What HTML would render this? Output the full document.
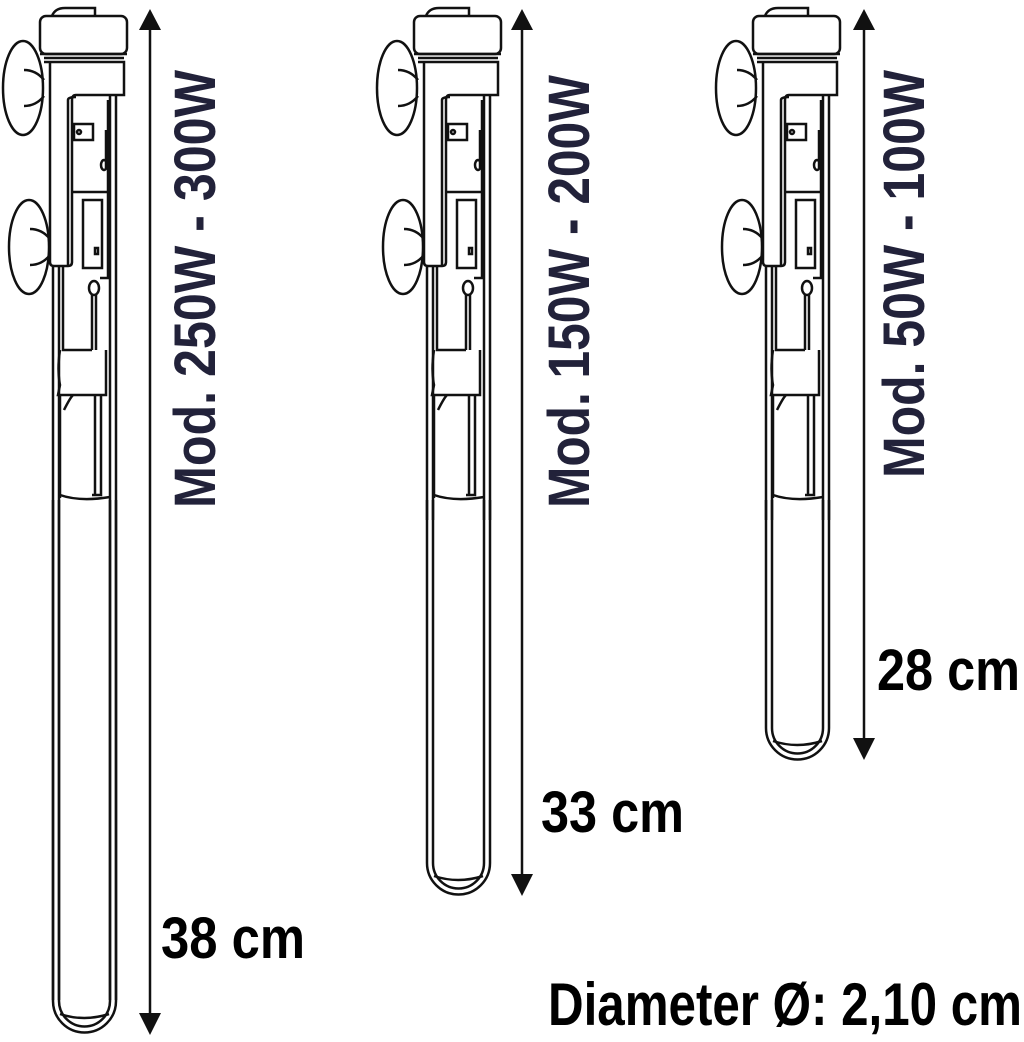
<!DOCTYPE html>
<html><head><meta charset="utf-8"><style>
html,body{margin:0;padding:0;background:#fff;}
svg{display:block;}
text{font-family:"Liberation Sans",sans-serif;font-weight:bold;}
</style></head><body>
<svg width="1024" height="1042" viewBox="0 0 1024 1042" xmlns="http://www.w3.org/2000/svg">
<defs>
<g id="top" fill="none" stroke="#111" stroke-width="2.5">
  <ellipse cx="23" cy="88" rx="20" ry="47" fill="#fff"/>
  <path d="M24 70 q12 0 20 10 M24 106 q12 0 20 -10"/>
  <ellipse cx="29" cy="247" rx="20" ry="47" fill="#fff"/>
  <path d="M30 229 q12 0 20 10 M30 265 q12 0 20 -10"/>
  <path d="M53 95 V1000 M59 95 V1000 M110 95 V1000 M116 95 V1000"/>
  <path d="M44 62 H124 V95 H76 Q72 95 72 100 V262 Q72 266 68 266 H54 Q50 266 50 262 V62" fill="#fff"/>
  <path d="M68 266 V100 Q68 97 76 97"/>
  <rect x="40" y="16" width="87" height="38" rx="6" fill="#fff"/>
  <path d="M52 16 Q55 8 65 8 H95 V16"/>
  <path d="M40 54 H127 M44 58 H124"/>
  <rect x="74" y="124" width="19" height="16"/><circle cx="79" cy="132" r="2"/>
  <path d="M72 192 H108 M106 130 V168"/>
  <ellipse cx="104" cy="165" rx="3" ry="5"/>
  <rect x="83" y="200" width="19" height="68"/><rect x="95" y="248" width="3" height="6"/>
  <path d="M108 100 V278 H100"/>
  <ellipse cx="94" cy="288" rx="5" ry="7"/>
  <path d="M92 295 V350 M96 295 V350"/>
  <path d="M63 266 V350 H92 M60 350 Q57 370 60 385 L58 395 H106 V350"/>
  <path d="M60 395 V498 M95 395 V495 M101 395 V495 H92 M64 410 Q70 398 73 395"/>
  <path d="M60 495 Q80 502 110 497"/>
</g>
</defs>

<use href="#top"/>
<g fill="none" stroke="#111" stroke-width="2.5">
  <path d="M53 500 V1001 A31.5 31.5 0 0 0 116 1001 V500"/>
  <path d="M59 500 V1001 A25.5 25.5 0 0 0 110 1001 V500"/>
  <path d="M60 1014 Q84 1022 109 1014"/>
</g>
<g transform="translate(374 0)">
  <use href="#top"/>
  <rect x="50" y="520" width="70" height="500" fill="#fff"/>
  <g fill="none" stroke="#111" stroke-width="2.5">
    <path d="M53 500 V863 A31.5 31.5 0 0 0 116 863 V500"/>
    <path d="M59 500 V863 A25.5 25.5 0 0 0 110 863 V500"/>
    <path d="M60 876 Q84 884 109 876"/>
  </g>
</g>
<g transform="translate(713 0)">
  <use href="#top"/>
  <rect x="50" y="520" width="70" height="500" fill="#fff"/>
  <g fill="none" stroke="#111" stroke-width="2.5">
    <path d="M53 500 V728 A31.5 31.5 0 0 0 116 728 V500"/>
    <path d="M59 500 V728 A25.5 25.5 0 0 0 110 728 V500"/>
    <path d="M60 741 Q84 749 109 741"/>
  </g>
</g>

<g stroke="#111" stroke-width="2.5" fill="#111">
  <line x1="150" y1="25" x2="150" y2="1018"/>
  <polygon points="139,30 161,30 150,9" stroke="none"/>
  <polygon points="139,1013 161,1013 150,1035" stroke="none"/>
  <line x1="522" y1="25" x2="522" y2="878"/>
  <polygon points="511,30 533,30 522,9" stroke="none"/>
  <polygon points="511,874 533,874 522,896" stroke="none"/>
  <line x1="864" y1="25" x2="864" y2="742"/>
  <polygon points="853,30 875,30 864,9" stroke="none"/>
  <polygon points="853,738 875,738 864,760" stroke="none"/>
</g>

<g fill="#22223a" font-size="58">
  <text transform="translate(215 508) rotate(-90)" textLength="438" lengthAdjust="spacingAndGlyphs">Mod. 250W - 300W</text>
  <text transform="translate(589 508) rotate(-90)" textLength="433" lengthAdjust="spacingAndGlyphs">Mod. 150W - 200W</text>
  <text transform="translate(924 478) rotate(-90)" textLength="408" lengthAdjust="spacingAndGlyphs">Mod. 50W - 100W</text>
</g>
<g fill="#000" font-size="58">
  <text x="161" y="958" textLength="144" lengthAdjust="spacingAndGlyphs">38 cm</text>
  <text x="541" y="832" textLength="143" lengthAdjust="spacingAndGlyphs">33 cm</text>
  <text x="877" y="690" textLength="143" lengthAdjust="spacingAndGlyphs">28 cm</text>
  <text x="548" y="1025" font-size="60" textLength="474" lengthAdjust="spacingAndGlyphs">Diameter Ø: 2,10 cm</text>
</g>
</svg>
</body></html>
